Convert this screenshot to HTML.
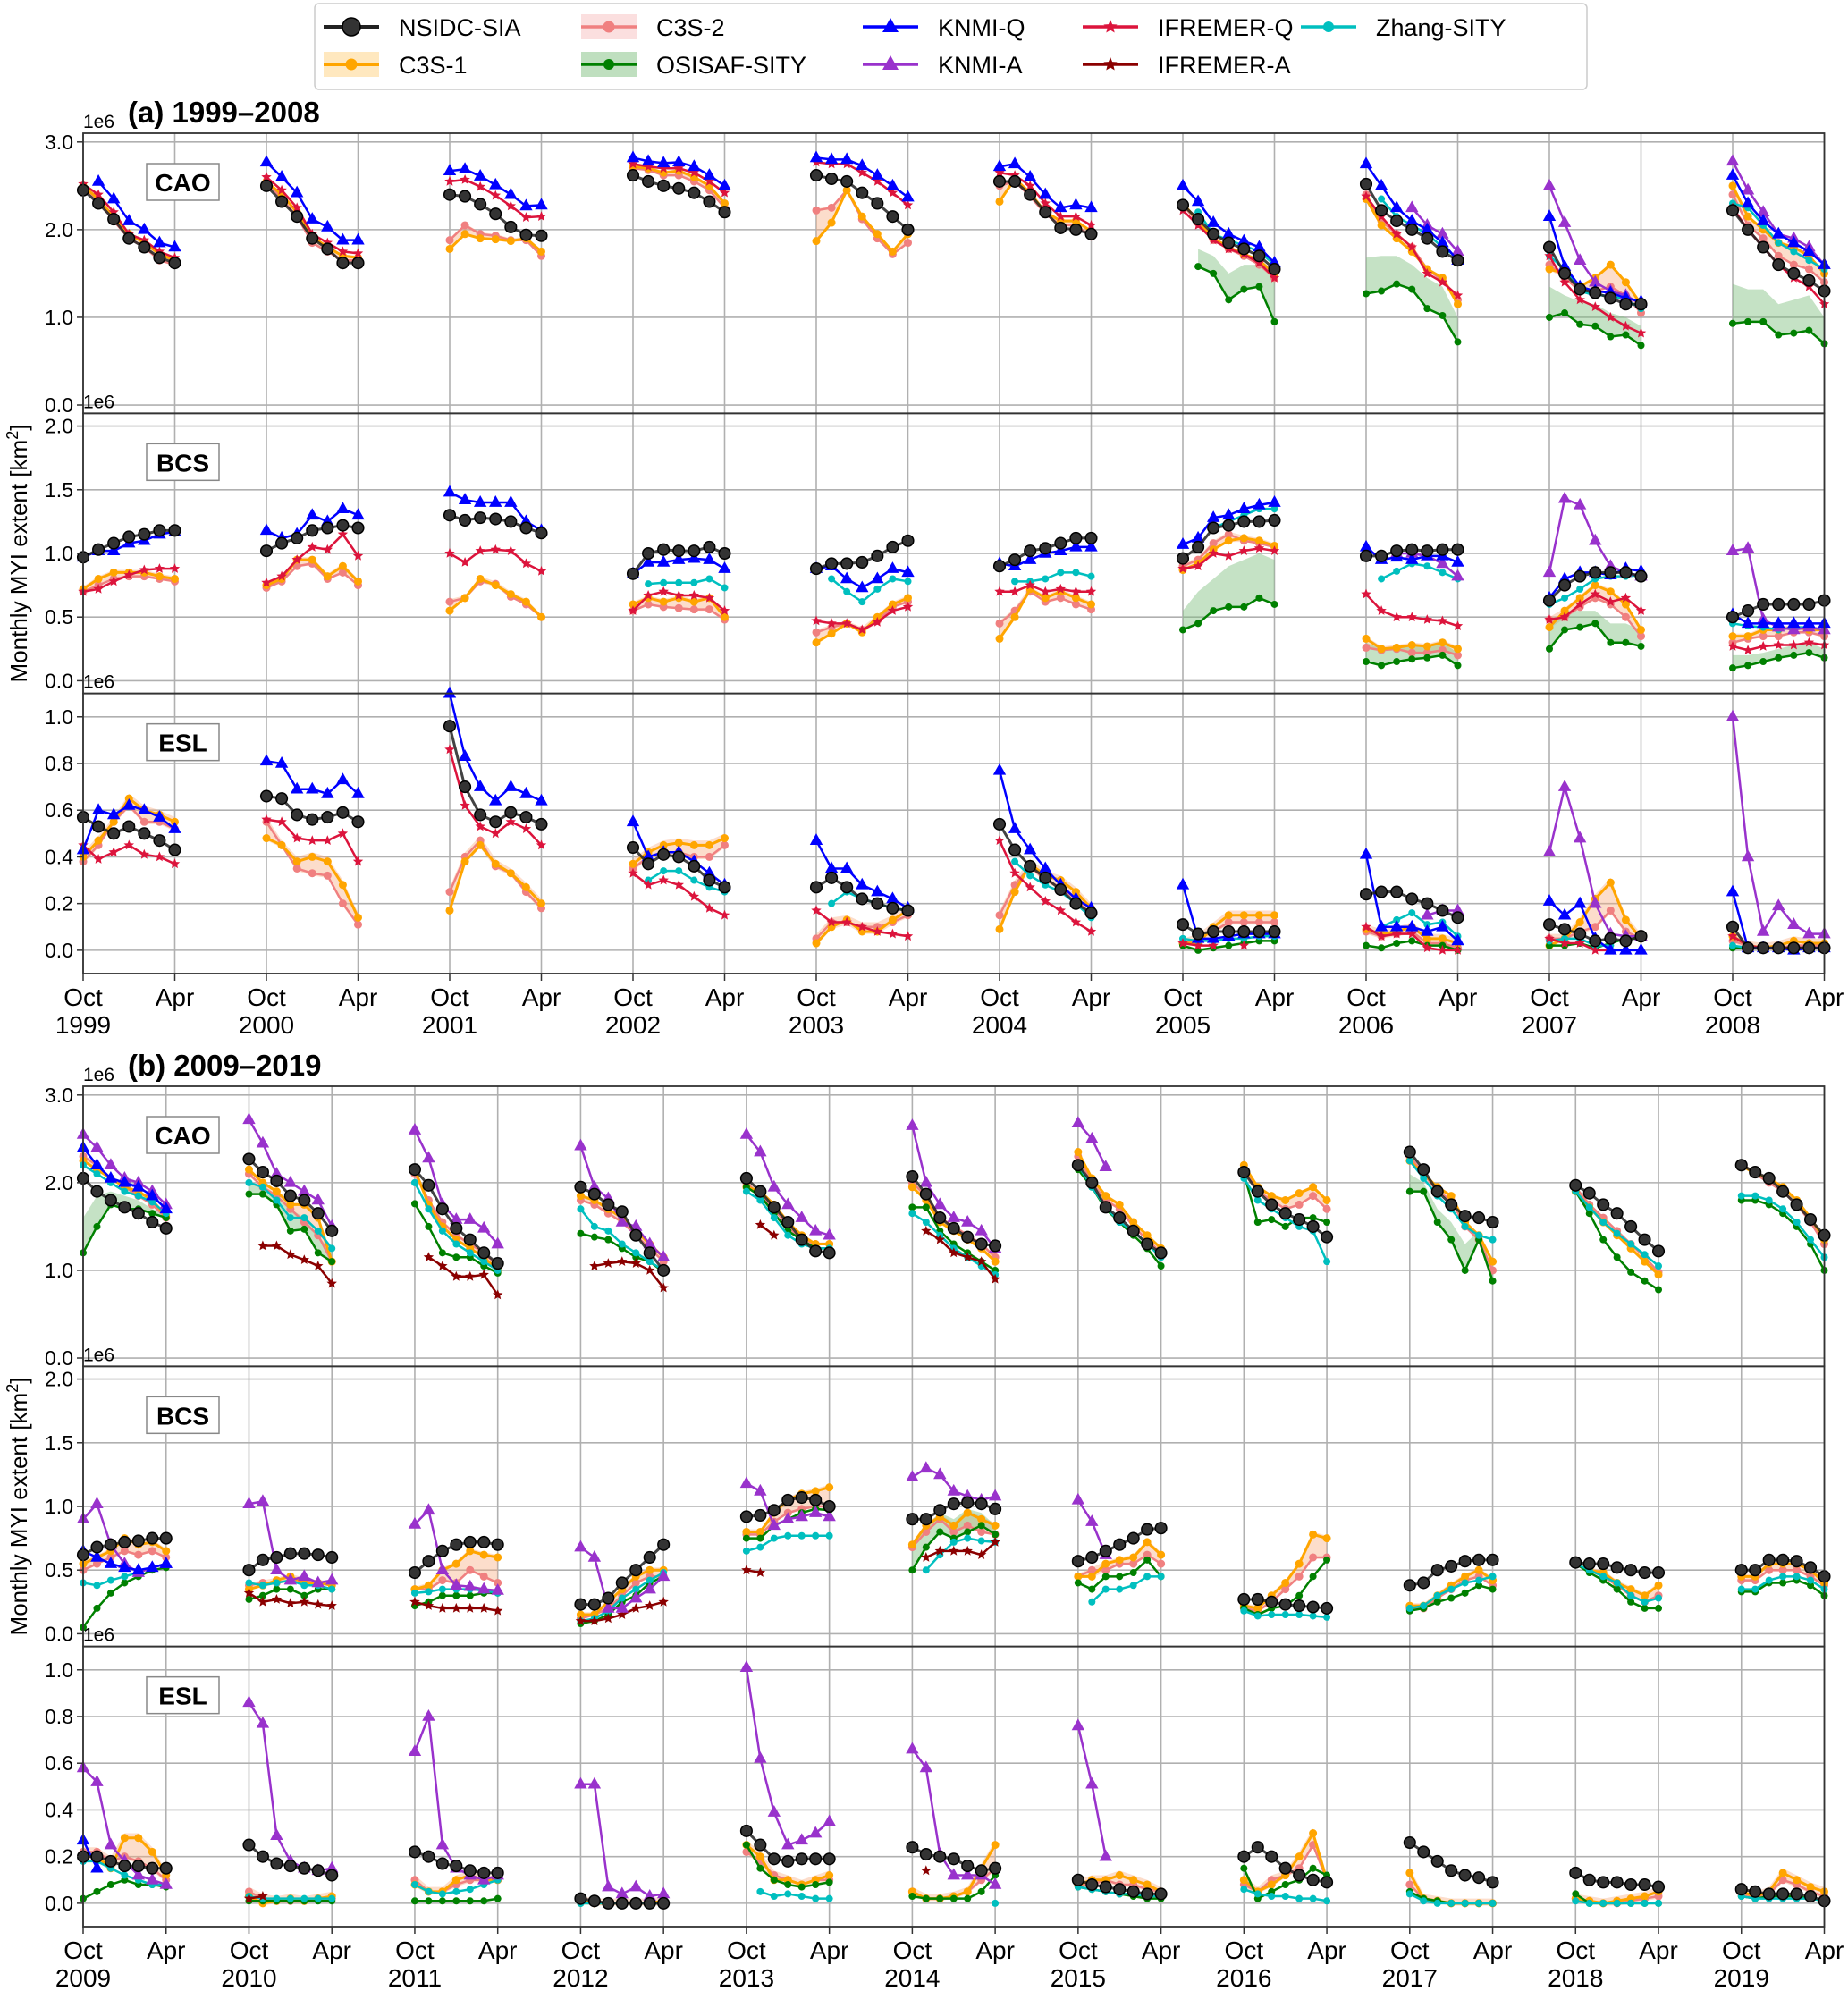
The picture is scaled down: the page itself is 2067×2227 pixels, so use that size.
<!DOCTYPE html>
<html><head><meta charset="utf-8"><style>
html,body{margin:0;padding:0;background:#fff;}
svg{display:block;font-family:"Liberation Sans","DejaVu Sans",sans-serif;}
</style></head><body>
<svg id="chart" width="2067" height="2227" viewBox="0 0 2067 2227" xmlns="http://www.w3.org/2000/svg">
<g id="grids"></g><g id="bands"></g><g id="series"></g><g id="axes"></g>
<g id="legend"></g>
<text x="143" y="137" font-size="33" font-weight="bold">(a) 1999–2008</text>
<text x="143" y="1203" font-size="33" font-weight="bold">(b) 2009–2019</text>
<text transform="translate(30,619) rotate(-90)" text-anchor="middle" font-size="26">Monthly MYI extent [km<tspan dy="-10" font-size="18">2</tspan><tspan dy="10">]</tspan></text>
<text transform="translate(30,1685) rotate(-90)" text-anchor="middle" font-size="26">Monthly MYI extent [km<tspan dy="-10" font-size="18">2</tspan><tspan dy="10">]</tspan></text>
</svg>
<script>
// ---------- DATA: each entry = one winter (Oct..Apr), "-" = missing ----------
const yearsA = [1999,2000,2001,2002,2003,2004,2005,2006,2007,2008];
const yearsB = [2009,2010,2011,2012,2013,2014,2015,2016,2017,2018,2019];
const monthTicks = ["Oct","Apr"];
const regionNames = ["CAO","BCS","ESL"];
const tickCAO = [0,1,2,3];
const tickBCS = [0,0.5,1,1.5,2];
const tickESL = [0,0.2,0.4,0.6,0.8,1.0];

// Panel (a) CAO
const a_CAO_nsidc = ["2.45 2.3 2.12 1.9 1.8 1.68 1.62","2.5 2.32 2.15 1.9 1.78 1.62 1.62","2.4 2.38 2.29 2.18 2.03 1.94 1.93","2.62 2.55 2.5 2.47 2.42 2.32 2.2","2.62 2.58 2.55 2.42 2.3 2.15 2.0","2.55 2.55 2.4 2.2 2.02 2.0 1.95","2.28 2.12 1.95 1.85 1.78 1.7 1.55","2.52 2.22 2.1 2.0 1.9 1.75 1.65","1.8 1.5 1.32 1.28 1.22 1.15 1.15","2.22 2.0 1.8 1.6 1.5 1.42 1.3"];
const a_CAO_c3s1 = ["2.5 2.35 2.15 1.95 1.85 1.72 1.65","2.55 2.4 2.2 1.92 1.8 1.7 1.68","1.78 1.95 1.9 1.89 1.87 1.9 1.75","2.72 2.7 2.65 2.67 2.6 2.5 2.3","1.87 2.08 2.45 2.15 1.95 1.75 1.95","2.32 2.58 2.42 2.2 2.1 2.1 1.98","2.3 2.1 1.9 1.8 1.72 1.65 1.5","2.35 2.05 1.9 1.75 1.55 1.45 1.15","1.55 1.5 1.35 1.45 1.6 1.4 1.15","2.5 2.15 2.0 1.85 1.8 1.7 1.5"];
const a_CAO_c3s2 = ["2.48 2.33 2.1 1.9 1.8 1.65 1.6","2.55 2.35 2.15 1.85 1.75 1.65 1.65","1.88 2.05 1.95 1.93 1.88 1.88 1.7","2.7 2.68 2.62 2.62 2.55 2.45 2.25","2.22 2.25 2.45 2.12 1.9 1.72 1.85","2.5 2.55 2.38 2.18 2.05 2.05 1.92","2.28 2.08 1.88 1.78 1.7 1.6 1.45","2.4 2.1 1.95 1.8 1.55 1.42 1.2","1.6 1.45 1.3 1.3 1.35 1.25 1.05","2.4 2.05 1.9 1.7 1.6 1.55 1.4"];
const a_CAO_osi = ["","","","","","","- 1.58 1.5 1.2 1.32 1.35 0.95","1.27 1.3 1.38 1.32 1.1 1.02 0.72","1.0 1.05 0.92 0.9 0.78 0.8 0.68","0.93 0.95 0.95 0.8 0.82 0.85 0.7"];
const a_CAO_osiHi = ["","","","","","","- 1.78 1.7 1.5 1.6 1.6 1.45","1.68 1.7 1.7 1.6 1.45 1.35 1.0","1.35 1.25 1.18 1.15 1.05 1.0 0.9","1.38 1.32 1.32 1.15 1.2 1.25 1.0"];
const a_CAO_knmiq = ["- 2.55 2.35 2.1 2.0 1.85 1.8","2.77 2.6 2.42 2.12 2.03 1.88 1.88","2.67 2.69 2.61 2.51 2.4 2.27 2.28","2.82 2.78 2.76 2.77 2.72 2.62 2.5","2.82 2.8 2.8 2.73 2.62 2.5 2.37","2.72 2.75 2.6 2.4 2.25 2.28 2.25","2.5 2.32 2.08 1.95 1.87 1.8 1.62","2.75 2.5 2.25 2.1 2.0 1.85 1.65","2.15 1.58 1.35 1.3 1.28 1.22 1.18","2.62 2.3 2.1 1.95 1.85 1.75 1.6"];
const a_CAO_knmia = ["","","","","","","","- - - 2.25 2.05 1.95 1.75","2.5 2.08 1.65 1.4 1.3 1.25 1.15","2.78 2.45 2.2 1.95 1.9 1.8 1.6"];
const a_CAO_ifrq = ["2.52 2.4 2.2 1.95 1.88 1.75 1.68","2.6 2.45 2.25 1.95 1.85 1.75 1.73","2.55 2.57 2.49 2.39 2.27 2.14 2.15","2.75 2.72 2.7 2.7 2.65 2.55 2.42","2.77 2.75 2.75 2.65 2.55 2.42 2.28","2.65 2.62 2.5 2.3 2.15 2.15 2.05","2.22 2.05 1.88 1.78 1.72 1.62 1.45","2.38 2.15 1.95 1.8 1.5 1.4 1.25","1.7 1.4 1.2 1.12 1.0 0.9 0.82","2.25 2.0 1.8 1.6 1.45 1.35 1.15"];
const a_CAO_ifra = ["","","","","","","","","",""];
const a_CAO_zhang = ["","","","","","","- 2.2 1.95 1.88 1.82 1.75 1.6","- 2.35 2.15 2.05 1.95 1.8 1.68","1.7 1.55 1.3 1.25 1.25 1.2 1.1","2.3 2.25 2.05 1.85 1.75 1.65 1.55"];

// Panel (a) BCS
const a_BCS_nsidc = ["0.97 1.03 1.08 1.13 1.15 1.18 1.18","1.02 1.08 1.12 1.18 1.2 1.22 1.2","1.3 1.26 1.28 1.27 1.25 1.2 1.16","0.84 1.0 1.03 1.02 1.02 1.05 1.0","0.88 0.92 0.92 0.93 0.98 1.05 1.1","0.9 0.95 1.02 1.04 1.08 1.12 1.12","0.96 1.05 1.2 1.22 1.25 1.25 1.26","0.98 0.98 1.02 1.03 1.02 1.03 1.03","0.63 0.75 0.82 0.85 0.85 0.85 0.82","0.5 0.55 0.6 0.6 0.6 0.6 0.63"];
const a_BCS_c3s1 = ["0.72 0.8 0.85 0.85 0.85 0.82 0.8","0.75 0.8 0.95 0.95 0.82 0.9 0.78","0.55 0.65 0.8 0.75 0.68 0.62 0.5","0.6 0.65 0.62 0.65 0.62 0.65 0.5","0.3 0.37 0.45 0.38 0.5 0.6 0.65","0.33 0.5 0.72 0.65 0.7 0.65 0.6","0.87 0.92 1.03 1.1 1.12 1.1 1.06","0.33 0.25 0.26 0.28 0.27 0.3 0.25","0.42 0.55 0.65 0.75 0.7 0.6 0.4","0.35 0.35 0.4 0.4 0.42 0.4 0.4"];
const a_BCS_c3s2 = ["0.7 0.75 0.8 0.82 0.82 0.8 0.78","0.73 0.78 0.9 0.92 0.8 0.85 0.75","0.62 0.65 0.78 0.76 0.66 0.6 0.5","0.55 0.6 0.58 0.57 0.56 0.56 0.48","0.38 0.42 0.45 0.4 0.47 0.58 0.62","0.45 0.55 0.7 0.62 0.65 0.6 0.56","0.9 0.95 1.08 1.15 1.1 1.08 1.05","0.26 0.24 0.25 0.22 0.22 0.24 0.2","0.48 0.5 0.58 0.65 0.6 0.5 0.35","0.3 0.33 0.35 0.35 0.38 0.38 0.35"];
const a_BCS_osi = ["","","","","","","0.4 0.45 0.55 0.58 0.58 0.65 0.6","0.15 0.12 0.15 0.17 0.18 0.2 0.12","0.25 0.4 0.42 0.45 0.3 0.3 0.27","0.1 0.12 0.15 0.18 0.2 0.22 0.18"];
const a_BCS_osiHi = ["","","","","","","0.55 0.7 0.8 0.9 0.95 1.0 0.95","0.3 0.25 0.25 0.28 0.28 0.3 0.22","0.45 0.55 0.55 0.55 0.45 0.45 0.4","0.2 0.2 0.22 0.25 0.28 0.3 0.25"];
const a_BCS_knmiq = ["0.97 1.02 1.02 1.08 1.1 1.15 1.17","1.18 1.12 1.15 1.3 1.25 1.35 1.3","1.48 1.42 1.4 1.4 1.4 1.25 1.18","0.84 0.93 0.93 0.95 0.96 0.95 0.88","0.88 0.9 0.8 0.73 0.8 0.88 0.85","0.92 0.9 0.95 1.0 1.02 1.05 1.05","1.07 1.12 1.28 1.3 1.35 1.38 1.4","1.05 0.95 0.97 0.95 0.98 0.98 0.93","0.65 0.8 0.85 0.85 0.83 0.88 0.86","0.52 0.45 0.45 0.45 0.45 0.45 0.45"];
const a_BCS_knmia = ["","","","","","","","- - 1.0 1.0 0.98 0.92 0.82","0.85 1.43 1.38 1.1 0.9 0.85 0.82","1.02 1.04 0.48 0.42 0.4 0.42 0.4"];
const a_BCS_ifrq = ["0.7 0.72 0.78 0.83 0.87 0.88 0.88","0.77 0.82 0.95 1.05 1.03 1.15 0.98","1.0 0.93 1.02 1.03 1.02 0.92 0.86","0.55 0.67 0.7 0.67 0.67 0.65 0.55","0.47 0.45 0.45 0.4 0.46 0.55 0.58","0.7 0.7 0.75 0.7 0.72 0.7 0.7","0.88 0.9 1.0 0.98 1.02 1.04 1.02","0.68 0.55 0.5 0.5 0.48 0.47 0.43","0.48 0.5 0.6 0.68 0.62 0.65 0.55","0.27 0.24 0.27 0.28 0.28 0.3 0.28"];
const a_BCS_ifra = ["","","","","","","","","",""];
const a_BCS_zhang = ["","","","- 0.76 0.77 0.77 0.77 0.8 0.73","- 0.8 0.7 0.62 0.72 0.8 0.78","- 0.78 0.78 0.8 0.85 0.85 0.82","- - 1.2 1.25 1.3 1.35 1.35","- 0.8 0.86 0.92 0.9 0.85 0.8","0.6 0.65 0.72 0.8 0.82 0.82 0.83","0.45 0.43 0.42 0.4 0.42 0.42 0.4"];

// Panel (a) ESL
const a_ESL_nsidc = ["0.57 0.53 0.5 0.53 0.5 0.47 0.43","0.66 0.65 0.58 0.56 0.57 0.59 0.55","0.96 0.7 0.58 0.55 0.59 0.57 0.54","0.44 0.37 0.41 0.4 0.36 0.3 0.27","0.27 0.31 0.27 0.22 0.2 0.18 0.17","0.54 0.43 0.36 0.31 0.26 0.2 0.16","0.11 0.07 0.08 0.08 0.08 0.08 0.08","0.24 0.25 0.25 0.22 0.2 0.17 0.14","0.11 0.09 0.07 0.04 0.05 0.04 0.06","0.1 0.01 0.01 0.01 0.01 0.01 0.01"];
const a_ESL_c3s1 = ["0.4 0.47 0.55 0.65 0.6 0.58 0.55","0.48 0.45 0.38 0.4 0.38 0.28 0.14","0.17 0.38 0.45 0.37 0.33 0.27 0.2","0.37 0.42 0.45 0.46 0.45 0.45 0.48","0.03 0.1 0.13 0.08 0.08 0.13 0.17","0.09 0.25 0.37 0.32 0.3 0.25 0.18","0.03 0.03 0.1 0.15 0.15 0.15 0.15","0.09 0.07 0.08 0.1 0.05 0.05 0.03","0.02 0.05 0.12 0.22 0.29 0.13 0.05","0.06 0.02 0.01 0.02 0.04 0.03 0.03"];
const a_ESL_c3s2 = ["0.38 0.45 0.55 0.62 0.55 0.55 0.52","0.55 0.45 0.35 0.33 0.32 0.2 0.11","0.25 0.4 0.47 0.36 0.33 0.25 0.18","0.35 0.4 0.42 0.42 0.4 0.4 0.45","0.05 0.12 0.12 0.1 0.1 0.12 0.15","0.15 0.28 0.36 0.3 0.27 0.22 0.15","0.03 0.05 0.08 0.12 0.12 0.12 0.12","0.08 0.06 0.07 0.08 0.03 0.03 0.01","0.05 0.05 0.08 0.1 0.17 0.08 0.05","0.04 0.02 0.01 0.01 0.02 0.02 0.02"];
const a_ESL_osi = ["","","","","","","0.02 0.0 0.01 0.02 0.03 0.04 0.04","0.02 0.01 0.03 0.04 0.02 0.02 0.0","0.02 0.02 0.03 0.01 0.03 0.05 0.05","0.01 0.01 0.01 0.01 0.01 0.01 0.01"];
const a_ESL_osiHi = ["","","","","","","","","",""];
const a_ESL_knmiq = ["0.43 0.6 0.58 0.62 0.6 0.57 0.52","0.81 0.8 0.69 0.69 0.67 0.73 0.67","1.12 0.83 0.7 0.64 0.7 0.67 0.64","0.55 0.4 0.42 0.42 0.38 0.33 0.28","0.47 0.35 0.35 0.28 0.25 0.22 0.18","0.77 0.52 0.43 0.35 0.28 0.22 0.18","0.28 0.05 0.05 0.06 0.07 0.07 0.07","0.41 0.1 0.1 0.1 0.08 0.1 0.04","0.21 0.15 0.2 0.05 0.0 0.0 0.0","0.25 0.01 0.01 0.01 0.0 0.01 0.01"];
const a_ESL_knmia = ["","","","","","","","- - - - 0.15 0.17 0.17","0.42 0.7 0.48 0.2 0.07 0.06 0.06","1.0 0.4 0.08 0.19 0.11 0.07 0.07"];
const a_ESL_ifrq = ["0.45 0.39 0.42 0.45 0.41 0.4 0.37","0.56 0.55 0.48 0.47 0.47 0.5 0.38","0.86 0.62 0.53 0.5 0.55 0.52 0.45","0.33 0.28 0.3 0.28 0.23 0.18 0.15","0.17 0.12 0.12 0.1 0.08 0.07 0.06","0.47 0.33 0.27 0.21 0.17 0.12 0.08","0.03 0.02 0.02 - 0.02 - -","0.1 0.06 0.07 0.07 0.01 0.0 0.0","0.05 0.03 0.03 0.0 0.0 - -","0.06 0.02 0.01 0.01 0.01 0.01 0.01"];
const a_ESL_ifra = ["","","","","","","","","",""];
const a_ESL_zhang = ["","","","- 0.3 0.34 0.34 0.3 0.27 0.25","- 0.2 0.25 0.22 0.2 0.18 0.17","- 0.38 0.32 0.28 0.25 0.2 0.14","0.05 0.04 0.04 0.05 0.05 0.06 0.06","- 0.1 0.13 0.16 0.11 0.12 0.06","0.04 0.05 0.05 0.02 0.02 - -","0.02 0.01 0.01 0.01 0.01 0.01 0.01"];

// Panel (b) CAO
const b_CAO_nsidc = ["2.05 1.9 1.8 1.72 1.65 1.55 1.48","2.27 2.12 2.02 1.85 1.8 1.65 1.45","2.15 1.97 1.7 1.48 1.35 1.2 1.08","1.95 1.87 1.75 1.67 1.4 1.2 1.0","2.05 1.9 1.72 1.55 1.35 1.22 1.2","2.07 1.87 1.6 1.48 1.38 1.3 1.28","2.2 2.0 1.72 1.6 1.45 1.3 1.2","2.12 1.9 1.75 1.65 1.58 1.5 1.38","2.35 2.15 1.9 1.75 1.62 1.6 1.55","1.97 1.88 1.75 1.65 1.5 1.35 1.22","2.2 2.12 2.05 1.9 1.75 1.58 1.4"];
const b_CAO_c3s1 = ["2.25 2.15 2.05 1.95 1.9 1.8 1.62","2.15 2.0 1.9 1.75 1.75 1.6 1.1","2.15 1.75 1.5 1.35 1.25 1.15 1.0","1.85 1.8 1.7 1.6 1.45 1.3 1.15","1.95 1.9 1.75 1.55 1.4 1.3 1.3","1.95 1.8 1.55 1.45 1.35 1.25 1.1","2.35 2.05 1.85 1.75 1.55 1.4 1.25","2.2 1.95 1.85 1.8 1.88 1.95 1.8","2.25 2.1 1.95 1.85 1.55 1.4 1.1","1.9 1.72 1.55 1.4 1.25 1.1 0.95","2.2 2.1 2.05 1.95 1.8 1.6 1.35"];
const b_CAO_c3s2 = ["2.3 2.2 2.05 1.95 1.85 1.75 1.6","2.1 1.95 1.85 1.7 1.55 1.4 1.1","2.1 1.8 1.55 1.4 1.3 1.2 1.05","1.8 1.75 1.65 1.55 1.4 1.25 1.1","2.0 1.85 1.7 1.5 1.35 1.3 1.3","2.0 1.85 1.6 1.5 1.4 1.3 1.15","2.3 2.0 1.8 1.7 1.5 1.35 1.2","2.15 1.9 1.8 1.7 1.75 1.85 1.7","2.3 2.1 1.9 1.8 1.5 1.35 1.0","1.95 1.75 1.6 1.45 1.3 1.15 0.98","2.22 2.1 2.0 1.9 1.75 1.55 1.3"];
const b_CAO_osi = ["1.2 1.5 1.75 1.7 1.7 1.65 1.6","1.87 1.87 1.75 1.45 1.47 1.2 1.1","1.76 1.5 1.2 1.15 1.15 1.05 0.97","1.42 1.38 1.35 1.25 1.15 1.1 0.98","1.95 1.85 1.65 1.45 1.35 1.25 1.25","1.72 1.72 1.45 1.3 1.2 1.1 1.0","2.15 1.95 1.7 1.55 1.4 1.25 1.05","2.1 1.55 1.58 1.5 1.6 1.6 1.55","1.9 1.9 1.55 1.35 1.0 1.35 0.88","1.9 1.65 1.35 1.15 0.98 0.88 0.78","1.8 1.8 1.75 1.65 1.5 1.3 1.0"];
const b_CAO_osiHi = ["1.6 1.85 1.9 1.85 1.8 1.7 1.65","2.0 1.95 1.85 1.7 1.6 1.4 1.2","","","","","","","2.1 2.0 1.7 1.55 1.3 1.45 1.0","",""];
const b_CAO_knmiq = ["2.4 2.2 2.05 2.0 1.95 1.85 1.7","","","","","","","","","",""];
const b_CAO_knmia = ["2.55 2.4 2.2 2.05 2.0 1.9 1.75","2.72 2.45 2.1 2.0 1.9 1.8 1.5","2.6 2.28 1.75 1.58 1.58 1.48 1.3","2.42 1.95 1.82 1.55 1.5 1.3 1.15","2.55 2.35 1.95 1.75 1.6 1.45 1.4","2.65 2.0 1.75 1.6 1.55 1.45 1.25","2.68 2.5 2.18 - - - -","","","",""];
const b_CAO_ifrq = ["","","","","","","","","","",""];
const b_CAO_ifra = ["","- 1.28 1.28 1.18 1.12 1.05 0.85","- 1.15 1.05 0.93 0.93 0.95 0.72","- 1.05 1.08 1.1 1.08 1.0 0.8","- 1.52 1.4 - - - -","- 1.45 1.35 1.2 1.15 1.1 0.9","","","","",""];
const b_CAO_zhang = ["2.2 2.1 2.0 1.9 1.85 1.78 1.65","2.0 1.95 1.8 1.6 1.6 1.45 1.25","2.0 1.7 1.45 1.3 1.2 1.1 1.0","1.7 1.5 1.45 1.3 1.2 1.1 1.0","1.9 1.8 1.6 1.4 1.3 1.25 1.25","1.65 1.55 1.4 1.25 1.15 1.05 0.95","2.2 1.95 1.72 1.55 1.45 1.3 1.15","2.05 1.8 1.7 1.6 1.5 1.45 1.1","2.25 2.05 1.85 1.7 1.5 1.4 1.35","1.9 1.72 1.55 1.42 1.3 1.18 1.05","1.85 1.85 1.8 1.7 1.55 1.35 1.15"];

// Panel (b) BCS
const b_BCS_nsidc = ["0.62 0.68 0.7 0.72 0.73 0.75 0.75","0.5 0.58 0.6 0.63 0.63 0.62 0.6","0.48 0.57 0.65 0.7 0.72 0.72 0.7","0.23 0.23 0.28 0.4 0.5 0.6 0.7","0.92 0.93 0.97 1.05 1.07 1.05 1.0","0.9 0.9 0.97 1.02 1.03 1.02 0.98","0.57 0.6 0.65 0.7 0.75 0.82 0.83","0.27 0.27 0.25 0.23 0.22 0.21 0.2","0.38 0.4 0.5 0.53 0.57 0.58 0.58","0.56 0.55 0.55 0.52 0.5 0.48 0.48","0.5 0.5 0.58 0.58 0.57 0.52 0.45"];
const b_BCS_c3s1 = ["0.55 0.6 0.65 0.75 0.7 0.72 0.65","0.35 0.38 0.42 0.45 0.4 0.4 0.38","0.35 0.38 0.5 0.55 0.65 0.62 0.6","0.15 0.15 0.25 0.35 0.45 0.5 0.5","0.8 0.8 0.95 1.05 1.1 1.12 1.15","0.7 0.85 0.92 0.85 0.95 0.9 0.85","0.45 0.45 0.55 0.58 0.6 0.72 0.62","0.22 0.2 0.3 0.4 0.55 0.78 0.75","0.22 0.22 0.3 0.38 0.45 0.5 0.42","0.55 0.5 0.48 0.4 0.35 0.3 0.38","0.45 0.45 0.55 0.55 0.55 0.5 0.4"];
const b_BCS_c3s2 = ["0.5 0.55 0.6 0.65 0.62 0.65 0.6","0.38 0.4 0.4 0.42 0.42 0.4 0.4","0.35 0.35 0.42 0.4 0.5 0.45 0.4","0.12 0.15 0.2 0.3 0.4 0.45 0.45","0.78 0.78 0.88 0.95 0.98 1.0 1.0","0.68 0.8 0.9 0.8 0.85 0.8 0.78","0.45 0.5 0.5 0.55 0.55 0.62 0.55","0.2 0.18 0.25 0.35 0.45 0.6 0.6","0.2 0.2 0.28 0.35 0.42 0.45 0.38","0.55 0.5 0.45 0.38 0.3 0.25 0.3","0.42 0.42 0.5 0.5 0.5 0.45 0.38"];
const b_BCS_osi = ["0.05 0.2 0.32 0.4 0.45 0.5 0.52","0.27 0.3 0.35 0.35 0.3 0.35 0.35","0.22 0.25 0.3 0.3 0.3 0.32 0.32","0.08 0.1 0.15 0.25 0.3 0.4 0.45","0.75 0.75 0.85 0.9 0.95 0.98 0.97","0.5 0.68 0.8 0.75 0.8 0.85 0.78","0.4 0.35 0.45 0.45 0.48 0.58 0.45","0.2 0.15 0.2 0.22 0.3 0.45 0.58","0.18 0.2 0.25 0.28 0.32 0.38 0.35","0.55 0.48 0.42 0.35 0.25 0.2 0.2","0.33 0.33 0.4 0.4 0.42 0.38 0.3"];
const b_BCS_osiHi = ["","","","","","0.7 0.85 0.95 0.9 0.98 0.95 0.85","","","","",""];
const b_BCS_knmiq = ["0.65 0.6 0.55 0.52 0.5 0.52 0.55","","","","","","","","","",""];
const b_BCS_knmia = ["0.9 1.02 0.7 0.55 0.48 0.52 0.55","1.02 1.04 0.5 0.42 0.45 0.4 0.42","0.86 0.97 0.5 0.38 0.37 0.35 0.34","0.68 0.6 0.2 0.2 0.28 0.35 0.45","1.18 1.12 0.85 0.9 0.92 0.95 0.92","1.23 1.3 1.25 1.12 1.08 1.05 1.08","1.05 0.88 0.62 - - - -","","","",""];
const b_BCS_ifrq = ["","","","","","","","","","",""];
const b_BCS_ifra = ["","0.32 0.25 0.27 0.24 0.25 0.23 0.22","0.25 0.22 0.2 0.2 0.2 0.2 0.18","0.1 0.1 0.12 0.15 0.2 0.22 0.25","0.5 0.48 - - - - -","- 0.6 0.65 0.65 0.65 0.62 0.72","","","","",""];
const b_BCS_zhang = ["0.4 0.38 0.42 0.45 0.48 0.52 0.55","0.4 0.38 0.4 0.42 0.38 0.38 0.35","0.32 0.33 0.35 0.35 0.35 0.34 0.32","0.1 0.12 0.18 0.28 0.35 0.42 0.48","0.65 0.68 0.75 0.77 0.77 0.77 0.77","- 0.5 0.62 0.72 0.75 0.73 0.72","- 0.25 0.35 0.35 0.38 0.45 0.45","0.18 0.14 0.15 0.15 0.15 0.14 0.13","0.2 0.22 0.3 0.35 0.4 0.42 0.45","0.55 0.5 0.45 0.4 0.3 0.25 0.28","0.35 0.35 0.42 0.45 0.45 0.42 0.35"];

// Panel (b) ESL
const b_ESL_nsidc = ["0.2 0.2 0.18 0.16 0.16 0.15 0.15","0.25 0.2 0.17 0.16 0.15 0.14 0.12","0.22 0.2 0.17 0.16 0.14 0.13 0.13","0.02 0.01 0.0 0.0 0.0 0.0 0.0","0.31 0.25 0.19 0.18 0.19 0.19 0.19","0.24 0.21 0.2 0.19 0.16 0.14 0.15","0.1 0.08 0.07 0.06 0.05 0.04 0.04","0.2 0.24 0.2 0.15 0.12 0.1 0.09","0.26 0.22 0.18 0.14 0.12 0.11 0.09","0.13 0.1 0.09 0.09 0.08 0.08 0.07","0.06 0.05 0.04 0.04 0.04 0.03 0.01"];
const b_ESL_c3s1 = ["0.2 0.2 0.15 0.28 0.28 0.22 0.12","0.03 0.0 0.01 0.02 0.01 0.02 0.03","0.08 0.05 0.05 0.1 0.12 0.1 0.1","0.01 0.0 0.0 0.0 0.0 0.0 0.01","0.25 0.2 0.1 0.1 0.08 0.1 0.12","0.05 0.02 0.02 0.03 0.05 0.15 0.25","0.08 0.1 0.1 0.12 0.1 0.08 0.05","0.1 0.05 0.08 0.12 0.2 0.3 0.1","0.13 0.02 0.01 0.0 0.0 0.0 0.0","0.02 0.01 0.0 0.01 0.02 0.03 0.05","0.05 0.03 0.05 0.13 0.1 0.07 0.05"];
const b_ESL_c3s2 = ["0.22 0.22 0.18 0.2 0.18 0.15 0.1","0.05 0.02 0.01 0.01 0.01 0.02 0.02","0.1 0.05 0.05 0.08 0.1 0.1 0.1","0.01 0.0 0.0 0.0 0.0 0.0 0.0","0.22 0.18 0.12 0.1 0.08 0.1 0.1","0.05 0.02 0.02 0.03 0.05 0.1 0.15","0.08 0.08 0.1 0.08 0.08 0.06 0.05","0.08 0.05 0.1 0.12 0.15 0.25 0.1","0.08 0.02 0.01 0.0 0.0 0.0 0.0","0.02 0.01 0.0 0.0 0.01 0.02 0.03","0.04 0.03 0.04 0.1 0.08 0.05 0.03"];
const b_ESL_osi = ["0.02 0.05 0.08 0.1 0.08 0.08 0.07","0.01 0.01 0.01 0.01 0.01 0.01 0.01","0.01 0.01 0.01 0.01 0.01 0.01 0.02","0.0 0.0 0.0 0.0 0.0 0.0 0.0","0.25 0.15 0.1 0.08 0.07 0.08 0.09","0.03 0.02 0.02 0.02 0.02 0.05 0.12","0.07 0.06 0.05 0.04 0.03 0.02 0.02","0.15 0.02 0.05 0.08 0.1 0.15 0.12","0.05 0.02 0.01 0.0 0.0 0.0 0.0","0.04 0.0 0.0 0.0 0.0 0.0 0.0","0.03 0.02 0.03 0.03 0.03 0.02 0.01"];
const b_ESL_osiHi = ["","","","","","","","","","",""];
const b_ESL_knmiq = ["0.27 0.15 - - - - -","","","","","","","","","",""];
const b_ESL_knmia = ["0.58 0.52 0.25 0.18 0.12 0.1 0.08","0.86 0.77 0.29 0.18 0.15 0.14 0.15","0.65 0.8 0.25 0.15 0.12 0.1 0.12","0.51 0.51 0.07 0.04 0.07 0.03 0.04","1.01 0.62 0.39 0.25 0.27 0.3 0.35","0.66 0.58 0.21 0.12 0.12 0.12 0.08","0.76 0.51 0.2 - - - -","","","",""];
const b_ESL_ifrq = ["","","","","","","","","","",""];
const b_ESL_ifra = ["","0.02 0.03 - - - - -","","","","- 0.14 - - - - -","","","","",""];
const b_ESL_zhang = ["0.18 0.18 0.15 0.12 0.1 0.08 0.08","0.03 0.02 0.02 0.02 0.02 0.02 0.02","0.08 0.05 0.04 0.05 0.06 0.08 0.1","0.0 0.0 0.0 0.0 0.0 0.0 0.0","- 0.05 0.03 0.04 0.03 0.02 0.02","- - - - - - 0.0","0.07 0.06 0.05 0.04 0.04 0.03 0.03","0.06 0.04 0.03 0.03 0.02 0.02 0.01","0.04 0.01 0.0 0.0 0.0 0.0 0.0","0.01 0.0 0.0 0.0 0.0 0.0 0.0","0.03 0.02 0.02 0.02 0.02 0.02 0.01"];

// ---------- RENDERING ----------
const NS = "http://www.w3.org/2000/svg";
function mk(tag, attrs, parent){const e=document.createElementNS(NS,tag);for(const k in attrs)e.setAttribute(k,attrs[k]);parent.appendChild(e);return e;}
function parse(s){if(!s)return null;return s.trim().split(/\s+/).map(v=>v==="-"?null:parseFloat(v));}
const gGrid=document.getElementById('grids'),gBand=document.getElementById('bands'),gSer=document.getElementById('series'),gAx=document.getElementById('axes'),gLeg=document.getElementById('legend');

const X0=93, XW=1947.5, SUBH=313.33;
const domains={CAO:[-0.095,3.1],BCS:[-0.1,2.1],ESL:[-0.1,1.1]};
const ticks={CAO:tickCAO,BCS:tickBCS,ESL:tickESL};
const styles={
 c3s2:{c:"#f08080",w:2.5,m:"dot",r:4.5,label:"C3S-2"},
 c3s1:{c:"#ffa500",w:3,m:"dot",r:4.5,label:"C3S-1"},
 osi:{c:"#008000",w:2.5,m:"dot",r:4,label:"OSISAF-SITY"},
 zhang:{c:"#00bfbf",w:2.5,m:"dot",r:4,label:"Zhang-SITY"},
 ifra:{c:"#8b0000",w:2.5,m:"star",r:6,label:"IFREMER-A"},
 ifrq:{c:"#dc143c",w:2.5,m:"star",r:6,label:"IFREMER-Q"},
 knmia:{c:"#9932cc",w:2.5,m:"tri",r:8,label:"KNMI-A"},
 knmiq:{c:"#0000ff",w:2.5,m:"tri",r:8,label:"KNMI-Q"},
 nsidc:{c:"#222",w:3,m:"big",r:6.3,label:"NSIDC-SIA"}
};
const order=["c3s2","c3s1","osi","zhang","ifra","ifrq","knmia","knmiq","nsidc"];
const dataSets={a:{CAO:{},BCS:{},ESL:{}},b:{CAO:{},BCS:{},ESL:{}}};
const names={nsidc:1,c3s1:1,c3s2:1,osi:1,osiHi:1,knmiq:1,knmia:1,ifrq:1,ifra:1,zhang:1};
for(const p of ["a","b"])for(const r of regionNames)for(const n in names)dataSets[p][r][n]=eval(p+"_"+r+"_"+n);

function marker(st,x,y,parent,name){
 let e;
 if(st.m==="dot"||st.m==="big"){e=mk('circle',{cx:x,cy:y,r:st.r,fill:st.m==="big"?"#333":st.c,stroke:st.m==="big"?"#000":st.c,'stroke-width':st.m==="big"?1.5:0},parent);}
 else if(st.m==="tri"){const r=st.r;e=mk('polygon',{points:`${x},${y-r} ${x-r*0.9},${y+r*0.6} ${x+r*0.9},${y+r*0.6}`,fill:st.c},parent);}
 else {let pts=[];for(let i=0;i<10;i++){const a=-Math.PI/2+i*Math.PI/5,rr=i%2?st.r*0.45:st.r;pts.push((x+rr*Math.cos(a)).toFixed(1)+","+(y+rr*Math.sin(a)).toFixed(1));}e=mk('polygon',{points:pts.join(' '),fill:st.c},parent);}
 
 
 return e;
}

function drawPanel(p,top,years){
 const n=years.length, yw=XW/(n-0.5), half=yw/2;
 const xs=(yi,m)=>X0+yi*yw+m*half/6;
 regionNames.forEach((reg,ri)=>{
  const t=top+ri*SUBH, b=t+SUBH, [d0,d1]=domains[reg];
  const ys=v=>b-(v-d0)/(d1-d0)*SUBH;
  for(let yi=0;yi<n;yi++)for(const m of [0,6]){const x=xs(yi,m);const l=mk('line',{x1:x,x2:x,y1:t,y2:b,stroke:"#b0b0b0",'stroke-width':1.6},gGrid);}
  ticks[reg].forEach(v=>{const y=ys(v);const l=mk('line',{x1:X0,x2:X0+XW,y1:y,y2:y,stroke:"#b0b0b0",'stroke-width':1.6},gGrid);
   mk('line',{x1:X0-7,x2:X0,y1:y,y2:y,stroke:"#333",'stroke-width':1.5},gAx);
   const tx=mk('text',{x:X0-11,y:y+8,'text-anchor':'end','font-size':23},gAx);tx.textContent=v.toFixed(1);
   });
  const fr=mk('rect',{x:X0,y:t,width:XW,height:SUBH,fill:"none",stroke:"#333",'stroke-width':1.8},gAx);
  
  const off=mk('text',{x:X0,y:t-6,'font-size':21},gAx);off.textContent="1e6";
  
  const bx=X0+71,by=t+34;
  const lb=mk('rect',{x:bx,y:by,width:81,height:41,fill:"#fff",stroke:"#888",'stroke-width':1.5},gAx);
  
  const lt=mk('text',{x:bx+40.5,y:by+31,'text-anchor':'middle','font-size':28,'font-weight':'bold'},gAx);lt.textContent=reg;
  
  const D=dataSets[p][reg];
  for(let yi=0;yi<n;yi++){
   const a1=parse(D.c3s1[yi]),a2=parse(D.c3s2[yi]);
   if(a1&&a2){const up=[],lo=[];for(let m=0;m<7;m++){if(a1[m]==null||a2[m]==null)continue;up.push([xs(yi,m),ys(Math.max(a1[m],a2[m])+0.02)]);lo.push([xs(yi,m),ys(Math.min(a1[m],a2[m])-0.01)]);}
    if(up.length>1){const pts=up.concat(lo.reverse()).map(q=>q.join(',')).join(' ');
     const e=mk('polygon',{points:pts,fill:"#f4a0a0",'fill-opacity':0.3},gBand);
     const e2=mk('polygon',{points:pts,fill:"#ffc04d",'fill-opacity':0.15},gBand);}}
   const o=parse(D.osi[yi]),oh=parse(D.osiHi[yi]);
   if(o&&oh){const up=[],lo=[];for(let m=0;m<7;m++){if(o[m]==null||oh[m]==null)continue;up.push([xs(yi,m),ys(oh[m])]);lo.push([xs(yi,m),ys(o[m])]);}
    if(up.length>1){const pts=up.concat(lo.reverse()).map(q=>q.join(',')).join(' ');const e=mk('polygon',{points:pts,fill:"#7fbf7f",'fill-opacity':0.45},gBand);}}
  }
  order.forEach(key=>{const st=styles[key];
   for(let yi=0;yi<n;yi++){const vals=parse(D[key][yi]);if(!vals)continue;
    let seg=[];const segs=[];
    vals.forEach((v,m)=>{if(v==null){if(seg.length)segs.push(seg);seg=[];}else seg.push([xs(yi,m),Math.max(ys(v),t)]);});
    if(seg.length)segs.push(seg);
    segs.forEach(s=>{if(s.length>1){const pl=mk('polyline',{points:s.map(q=>q.join(',')).join(' '),fill:"none",stroke:st.c,'stroke-width':st.w,'stroke-linejoin':'round','stroke-opacity':key==="nsidc"?0.85:1},gSer);
      }
     s.forEach(q=>marker(st,q[0],q[1],gSer,`${key}-point`));});
   }});
  if(ri===2){for(let yi=0;yi<n;yi++){[0,6].forEach((m,k)=>{const x=xs(yi,m);
    mk('line',{x1:x,x2:x,y1:b,y2:b+8,stroke:"#333",'stroke-width':1.5},gAx);
    const tx=mk('text',{x:x,y:b+36,'text-anchor':'middle','font-size':28},gAx);tx.textContent=monthTicks[k];
    
    if(k===0){const ty=mk('text',{x:x,y:b+67,'text-anchor':'middle','font-size':28},gAx);ty.textContent=String(years[yi]);
     }
   });}}
 });
}
drawPanel("a",149,yearsA);
drawPanel("b",1215,yearsB);

const lbox=mk('rect',{x:352,y:4,width:1423,height:96,rx:5,fill:"#fff",stroke:"#ccc",'stroke-width':1.5},gLeg);

const legItems=[["nsidc",362,30],["c3s1",362,72],["c3s2",650,30],["osi",650,72],["knmiq",965,30],["knmia",965,72],["ifrq",1211,30],["ifra",1211,72],["zhang",1455,30]];
legItems.forEach(([k,x,y])=>{const st=styles[k];
 const g=mk('g',{},gLeg);
 
 
 if(k==="c3s1"||k==="c3s2"||k==="osi")mk('rect',{x:x,y:y-14,width:62,height:28,fill:k==="c3s1"?"#ffa500":(k==="c3s2"?"#f08080":"#008000"),'fill-opacity':0.25},g);
 mk('line',{x1:x,x2:x+62,y1:y,y2:y,stroke:st.c,'stroke-width':st.w+1},g);
 const big={...st,r:st.m==="big"?10:st.r+2};marker(big,x+31,y,g,'legend-marker');
 const t=mk('text',{x:x+84,y:y+10,'font-size':27},g);t.textContent=st.label;
 
});
</script>
</body></html>
